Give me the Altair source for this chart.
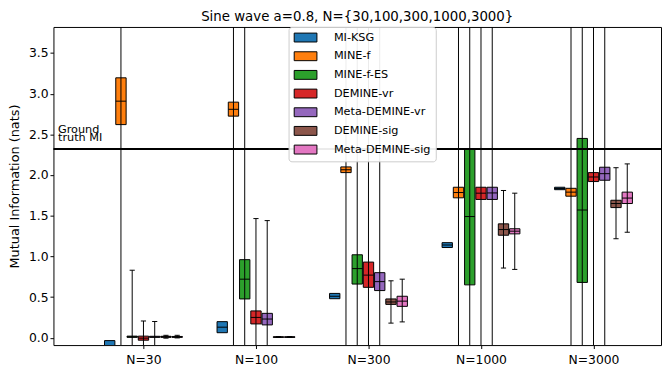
import json
import altair as alt
import pandas as pd

methods = ["MI-KSG", "MINE-f", "MINE-f-ES", "DEMINE-vr", "Meta-DEMINE-vr", "DEMINE-sig", "Meta-DEMINE-sig"]
colors = ["#1f77b4", "#ff7f0e", "#2ca02c", "#d62728", "#9467bd", "#8c564b", "#e377c2"]
sizes = ["N=30", "N=100", "N=300", "N=1000", "N=3000"]
ground_truth = 2.32
title_text = "Sine wave a=0.8, N={30,100,300,1000,3000}"

# rows = methods, columns = sizes
q1 = [
    [-0.20, 0.062, 0.48, 1.109, 1.82],
    [2.62, 2.724, 2.03, 1.72, 1.74],
    [0.005, 0.477, 0.66, 0.65, 0.68],
    [-0.03, 0.17, 0.62, 1.70, 1.92],
    [0.005, 0.158, 0.58, 1.70, 1.936],
    [0.005, 0.005, 0.41, 1.26, 1.60],
    [0.005, 0.005, 0.386, 1.277, 1.65],
]
med = [
    [-0.12, 0.13, 0.51, 1.14, 1.835],
    [2.908, 2.808, 2.065, 1.785, 1.79],
    [0.012, 0.72, 0.85, 1.49, 1.57],
    [-0.005, 0.25, 0.77, 1.777, 1.976],
    [0.01, 0.23, 0.69, 1.78, 2.017],
    [0.012, 0.008, 0.44, 1.33, 1.65],
    [0.01, 0.008, 0.45, 1.31, 1.717],
]
q3 = [
    [-0.035, 0.198, 0.545, 1.169, 1.85],
    [3.195, 2.896, 2.10, 1.85, 1.837],
    [0.02, 0.96, 1.02, 2.32, 2.45],
    [0.02, 0.33, 0.93, 1.85, 2.03],
    [0.018, 0.30, 0.80, 1.85, 2.096],
    [0.018, 0.012, 0.477, 1.40, 1.69],
    [0.016, 0.012, 0.51, 1.34, 1.79],
]
# error-bar ends (None = not drawn; +-10 = far beyond the axes)
lo = [
    [None, None, None, None, None],
    [-10, -10, -10, -10, -10],
    [-0.5, -10, -10, -10, -10],
    [-0.5, -0.5, -10, -10, -10],
    [-0.5, -0.5, -10, -10, -10],
    [-0.005, 0.003, 0.18, 0.857, 1.217],
    [-0.002, 0.003, 0.195, 0.84, 1.297],
]
hi = [
    [None, None, None, None, None],
    [10, 10, 10, 10, 10],
    [0.83, 10, 10, 10, 10],
    [0.206, 1.465, 10, 10, 10],
    [0.20, 1.44, 10, 10, 10],
    [0.03, 0.015, 0.70, 1.81, 2.09],
    [0.03, 0.015, 0.72, 1.777, 2.137],
]

rows = []
for mi, m in enumerate(methods):
    for gi, s in enumerate(sizes):
        rows.append(dict(method=m, group=gi + 1, slot=mi - 3,
                         q1=q1[mi][gi], med=med[mi][gi], q3=q3[mi][gi],
                         lo=lo[mi][gi], hi=hi[mi][gi]))
df = pd.DataFrame(rows)

FONT = "DejaVu Sans"
xscale = alt.Scale(domain=[0.2, 5.6], nice=False, zero=False)
yscale = alt.Scale(domain=[-0.09, 3.82], nice=False, zero=False)

label_expr = json.dumps(sizes) + "[datum.value - 1]"
xaxis = alt.Axis(values=[1, 2, 3, 4, 5], labelExpr=label_expr, title=None, grid=False,
                 labelPadding=5)
yaxis = alt.Axis(values=[0, 0.5, 1.0, 1.5, 2.0, 2.5, 3.0, 3.5], format=".1f",
                 title="Mutual Information (nats)", grid=False, titlePadding=7)

base = (alt.Chart(df)
        .transform_calculate(pos="datum.group + 0.1 * datum.slot")
        .transform_calculate(xl="datum.pos - 0.046", xr="datum.pos + 0.046",
                             cl="datum.pos - 0.023", cr="datum.pos + 0.023"))

boxes = base.mark_rect(stroke="black", strokeWidth=1, clip=True, opacity=1).encode(
    x=alt.X("xl:Q", scale=xscale, axis=xaxis),
    x2="xr:Q",
    y=alt.Y("q1:Q", scale=yscale, axis=yaxis),
    y2="q3:Q",
    color=alt.Color("method:N", scale=alt.Scale(domain=methods, range=colors),
                    legend=alt.Legend(title=None, orient="none", legendX=238, legendY=0,
                                      symbolType="M-2.556,-1H2.556V1H-2.556Z", symbolSize=81,
                                      symbolStrokeColor="black", symbolStrokeWidth=1,
                                      symbolOpacity=1, symbolOffset=6.5,
                                      labelFont=FONT, labelFontSize=11.4, labelColor="black",
                                      labelOffset=23, rowPadding=4.9, padding=5,
                                      fillColor="rgba(255,255,255,0.92)", strokeColor="#cccccc",
                                      cornerRadius=3)),
)

medians = base.mark_rule(color="black", strokeWidth=1, clip=True).encode(
    x=alt.X("xl:Q", scale=xscale, axis=xaxis), x2="xr:Q",
    y=alt.Y("med:Q", scale=yscale, axis=yaxis),
)

whisk = base.transform_filter("isValid(datum.lo)")
bars = whisk.mark_rule(color="black", strokeWidth=1, clip=True).encode(
    x=alt.X("pos:Q", scale=xscale, axis=xaxis),
    y=alt.Y("lo:Q", scale=yscale, axis=yaxis), y2="hi:Q",
)
caps_lo = whisk.mark_rule(color="black", strokeWidth=1, clip=True).encode(
    x=alt.X("cl:Q", scale=xscale, axis=xaxis), x2="cr:Q",
    y=alt.Y("lo:Q", scale=yscale, axis=yaxis),
)
caps_hi = whisk.mark_rule(color="black", strokeWidth=1, clip=True).encode(
    x=alt.X("cl:Q", scale=xscale, axis=xaxis), x2="cr:Q",
    y=alt.Y("hi:Q", scale=yscale, axis=yaxis),
)

gt_df = pd.DataFrame({"gt": [ground_truth], "label": ["Ground\ntruth MI"]})
gt_line = alt.Chart(gt_df).mark_rule(color="black", strokeWidth=2).encode(
    y=alt.Y("gt:Q", scale=yscale, axis=yaxis))
gt_text = alt.Chart(gt_df).mark_text(align="left", baseline="alphabetic", lineBreak="\n",
                                     lineHeight=8, dy=-16.5, font=FONT, fontSize=11.4,
                                     color="black").encode(
    x=alt.value(4.6), y=alt.Y("gt:Q", scale=yscale, axis=yaxis), text="label:N")

chart = (alt.layer(boxes, medians, bars, caps_lo, caps_hi, gt_line, gt_text)
         .properties(width=615, height=322,
                     title=alt.Title(title_text, font=FONT, fontSize=13.5, fontWeight="normal",
                                     color="black", anchor="middle", offset=3),
                     padding={"left": 0, "right": 0, "top": 0, "bottom": 0})
         .configure_view(stroke="black", strokeWidth=1)
         .configure_axis(domain=False, ticks=True, tickColor="black", tickSize=3.5,
                         labelFont=FONT, labelFontSize=12.5, labelColor="black",
                         titleFont=FONT, titleFontSize=13, titleFontWeight="normal",
                         titleColor="black", labelPadding=2))

chart.save("out.html", embed_options={"renderer": "svg", "actions": False})
